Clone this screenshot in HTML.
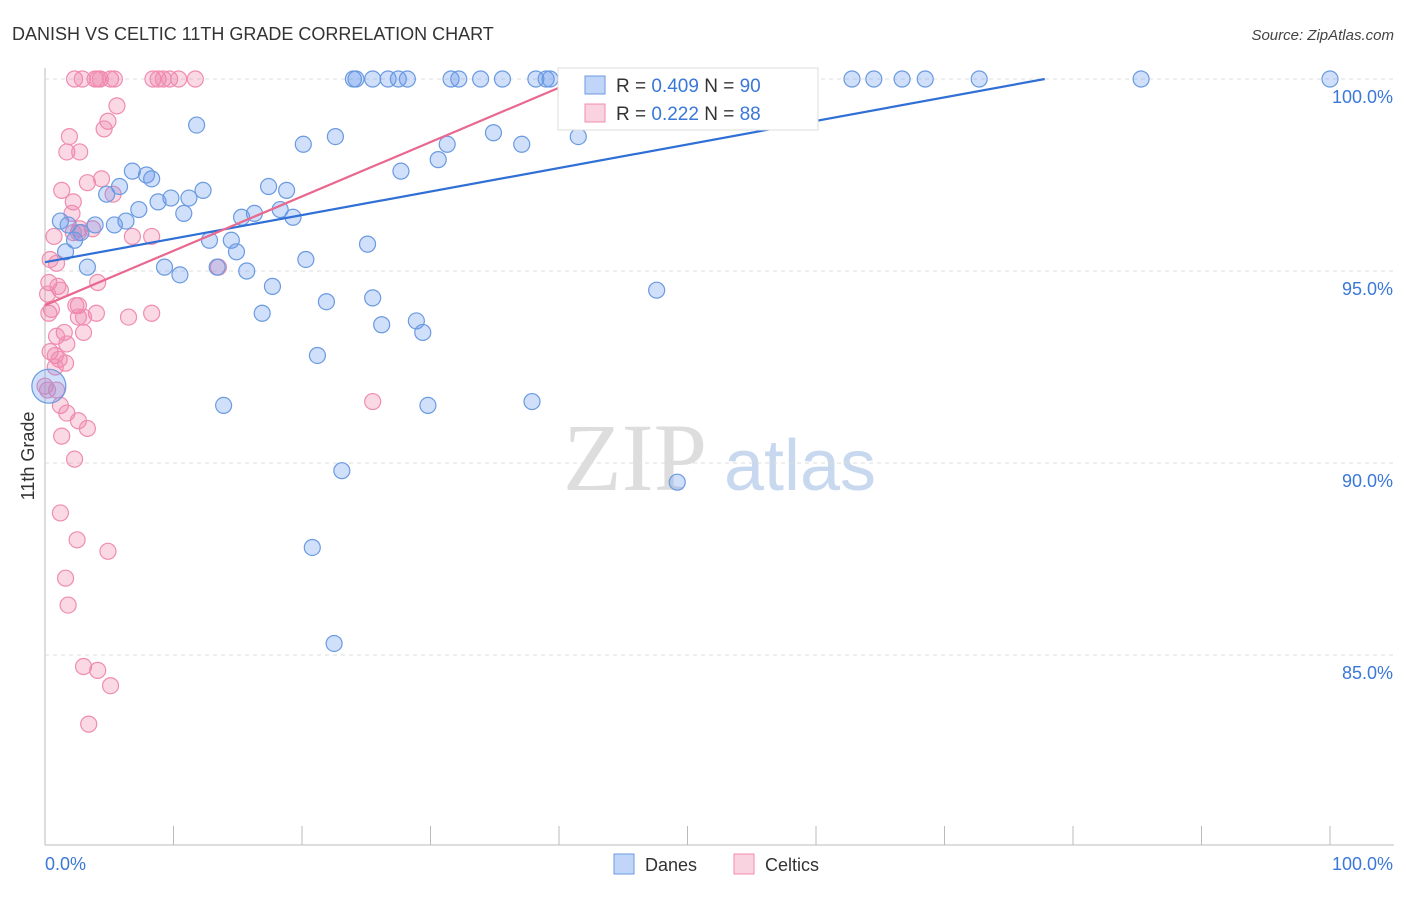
<!DOCTYPE html>
<html><head><meta charset="utf-8"><style>
body{margin:0;background:#fff;font-family:"Liberation Sans",sans-serif;}
</style></head><body>
<svg id="c" width="1406" height="892" xmlns="http://www.w3.org/2000/svg">
<text x="12" y="40" font-size="18" fill="#333">DANISH VS CELTIC 11TH GRADE CORRELATION CHART</text>
<text x="1394" y="40" font-size="15" fill="#444" font-style="italic" text-anchor="end">Source: ZipAtlas.com</text>
<text x="635" y="490" font-size="96" fill="#ddd" font-family="Liberation Serif,serif" text-anchor="middle">ZIP</text>
<text x="800" y="490" font-size="72" fill="#c8d8ee" text-anchor="middle">atlas</text>
<text transform="translate(34,456) rotate(-90)" font-size="18" fill="#333" text-anchor="middle">11th Grade</text>
<g id="grid"></g><g id="pts"></g><g id="lines"></g>
<g>
<rect x="558" y="68" width="260" height="62" fill="#fff" stroke="#ddd"/>
<rect x="585" y="76" width="20" height="18" fill="rgba(100,149,237,0.4)" stroke="#6a9ae0"/>
<text x="616" y="92" font-size="19" fill="#333">R = <tspan fill="#3a78d8">0.409</tspan>   N = <tspan fill="#3a78d8">90</tspan></text>
<rect x="585" y="104" width="20" height="18" fill="rgba(240,130,170,0.35)" stroke="#f08cb0"/>
<text x="616" y="120" font-size="19" fill="#333">R =  <tspan fill="#3a78d8">0.222</tspan>    N =  <tspan fill="#3a78d8">88</tspan></text>
</g>
<g>
<rect x="614" y="854" width="20" height="20" fill="rgba(100,149,237,0.4)" stroke="#6a9ae0"/>
<text x="645" y="871" font-size="18" fill="#333">Danes</text>
<rect x="734" y="854" width="20" height="20" fill="rgba(240,130,170,0.35)" stroke="#f08cb0"/>
<text x="765" y="871" font-size="18" fill="#333">Celtics</text>
</g>
</svg>
<script>
const yTicks=[100,95,90,85];
const xTickLabels=["0.0%","100.0%"];
const danesX=[24,24.2,25.5,26.7,27.5,28.2,31.6,32.2,33.9,35.6,38.2,39,39.3,46.3,50.2,52.5,58.4,62.8,64.5,66.7,68.5,72.7,85.3,100,11.8,22.6,20.1,34.9,37.1,41.5,31.3,30.6,54.1,27.7,6.8,7.9,8.3,5.8,4.8,9.8,12.3,17.4,18.8,8.8,11.2,18.3,7.3,16.3,10.8,19.3,15.3,6.3,1.2,1.8,3.9,5.4,2.8,2.3,12.8,14.5,25.1,14.9,1.6,20.3,3.3,9.3,13.4,15.7,10.5,17.7,47.6,21.9,25.5,16.9,28.9,26.2,29.4,21.2,0.3,13.9,29.8,37.9,23.1,49.2,20.8,22.5];
const danesY=[100,100,100,100,100,100,100,100,100,100,100,100,100,100,100,100,100,100,100,100,100,100,100,100,98.8,98.5,98.3,98.6,98.3,98.5,98.3,97.9,98.9,97.6,97.6,97.5,97.4,97.2,97,96.9,97.1,97.2,97.1,96.8,96.9,96.6,96.6,96.5,96.5,96.4,96.4,96.3,96.3,96.2,96.2,96.2,96,95.8,95.8,95.8,95.7,95.5,95.5,95.3,95.1,95.1,95.1,95,94.9,94.6,94.5,94.2,94.3,93.9,93.7,93.6,93.4,92.8,92,91.5,91.5,91.6,89.8,89.5,87.8,85.3];
const celtX=[2.3,2.9,3.9,4.1,4.3,5.1,5.4,8.4,8.8,9.2,9.7,10.4,11.7,5.6,4.9,4.6,1.9,1.7,2.7,1.3,3.3,4.4,5.3,2.2,2.1,2.6,2.7,3.7,0.7,6.8,8.3,2.2,0.4,0.9,13.5,0.3,1,1.2,4.1,0.2,2.6,2.4,0.3,0.5,4,2.6,3,6.5,8.3,1.5,0.9,3,1.7,0.4,0.8,1.1,1.6,0.8,0,0.9,0.2,25.5,1.2,1.7,2.6,3.3,1.3,2.3,1.2,2.5,4.9,1.6,1.8,3,4.1,5.1,3.4];
const celtY=[100,100,100,100,100,100,100,100,100,100,100,100,100,99.3,98.9,98.7,98.5,98.1,98.1,97.1,97.3,97.4,97,96.8,96.5,96,96.1,96.1,95.9,95.9,95.9,96,95.3,95.2,95.1,94.7,94.6,94.5,94.7,94.4,94.1,94.1,93.9,94,93.9,93.8,93.8,93.8,93.9,93.4,93.3,93.4,93.1,92.9,92.8,92.7,92.6,92.5,92,91.9,91.9,91.6,91.5,91.3,91.1,90.9,90.7,90.1,88.7,88,87.7,87,86.3,84.7,84.6,84.2,83.2];
const lineDanes=[0,95.23,77.8,100];
const lineCelt=[0,94.11,41.6,100];
const X=v=>45+v*12.85, Y=v=>79+(100-v)*38.4;
const ns="http://www.w3.org/2000/svg";
function mk(t,a,p){const e=document.createElementNS(ns,t);for(const k in a)e.setAttribute(k,a[k]);p.appendChild(e);return e;}
const g=document.getElementById('grid'),svg=document.getElementById('c');
mk('line',{x1:45,y1:68,x2:45,y2:845,stroke:'#bbb'},g);
mk('line',{x1:45,y1:845,x2:1394,y2:845,stroke:'#bbb'},g);
yTicks.forEach(t=>{
const l=mk('line',{x1:45,y1:Y(t),x2:1394,y2:Y(t),stroke:'#ddd','stroke-dasharray':'4,4'},g);


const tx=mk('text',{x:1393,y:Y(t)+24,'font-size':18,fill:'#3a78d8','text-anchor':'end'},g);
tx.textContent=t.toFixed(1)+'%';


});
for(let i=0;i<=10;i++){const tk=mk('line',{x1:X(i*10),y1:826,x2:X(i*10),y2:845,stroke:'#bbb'},g);

}
[[0,'start',45],[100,'end',1393]].forEach((d,i)=>{const tx=mk('text',{x:d[2],y:870,'font-size':18,fill:'#3a78d8','text-anchor':d[1]},g);tx.textContent=xTickLabels[i];

});
const p=document.getElementById('pts');
celtX.forEach((x,i)=>{const c=mk('circle',{cx:X(x),cy:Y(celtY[i]),r:8,fill:'rgba(240,130,170,0.3)',stroke:'#f08cb0','stroke-width':1.2},p);

});
danesX.forEach((x,i)=>{const c=mk('circle',{cx:X(x),cy:Y(danesY[i]),r:(i==danesX.length-8?17:8),fill:'rgba(100,149,237,0.3)',stroke:'#6a9ae0','stroke-width':1.2},p);

});
const L=document.getElementById('lines');
const l1=mk('line',{x1:X(lineDanes[0]),y1:Y(lineDanes[1]),x2:X(lineDanes[2]),y2:Y(lineDanes[3]),stroke:'#2f6fd6','stroke-width':2.2},L);


const l2=mk('line',{x1:X(lineCelt[0]),y1:Y(lineCelt[1]),x2:X(lineCelt[2]),y2:Y(lineCelt[3]),stroke:'#e8688f','stroke-width':2.2},L);


</script>
</body></html>
